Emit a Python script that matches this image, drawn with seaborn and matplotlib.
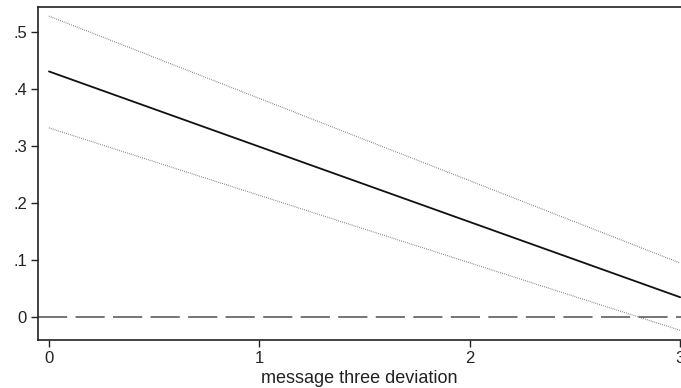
import matplotlib
matplotlib.use("Agg")
import matplotlib.pyplot as plt
import seaborn as sns
import pandas as pd

x_vals = [0, 3]
estimate = [0.430, 0.034]
upper_ci = [0.527, 0.094]
lower_ci = [0.331, -0.024]
y_ticks = [0, 0.1, 0.2, 0.3, 0.4, 0.5]
y_tick_labels = ["0", ".1", ".2", ".3", ".4", ".5"]
x_ticks = [0, 1, 2, 3]
x_tick_labels = ["0", "1", "2", "3"]
x_label = "message three deviation"

sns.set_theme(style="ticks")
plt.rcParams["font.family"] = ["Liberation Sans", "DejaVu Sans"]

fig = plt.figure(figsize=(6.81, 3.88), dpi=100)
ax = fig.add_axes([38 / 681, 1 - 340 / 388, 1 - 38 / 681, (340 - 7) / 388])

df = pd.DataFrame({"x": x_vals, "est": estimate, "hi": upper_ci, "lo": lower_ci})

ax.axhline(0, color="#757575", lw=1.4, dashes=(15, 4.3), zorder=1)
sns.lineplot(data=df, x="x", y="hi", ax=ax, color="#555555", lw=0.8,
             linestyle=(0, (0.6, 1.2)))
sns.lineplot(data=df, x="x", y="lo", ax=ax, color="#555555", lw=0.8,
             linestyle=(0, (0.6, 1.2)))
sns.lineplot(data=df, x="x", y="est", ax=ax, color="#111111", lw=1.3)

ax.set_xlim(-0.052, 3.004)
ax.set_ylim(-0.041, 0.543)
ax.set_xticks(x_ticks)
ax.set_xticklabels(x_tick_labels)
ax.set_yticks(y_ticks)
ax.set_yticklabels(y_tick_labels)
ax.set_xlabel(x_label, fontsize=13, labelpad=3, color="#222222")
ax.set_ylabel("")
ax.tick_params(axis="both", labelsize=12, length=5, width=1, color="#222222",
               labelcolor="#222222", pad=3)
for s in ["left", "bottom", "top"]:
    ax.spines[s].set_color("#222222")
    ax.spines[s].set_linewidth(1.2)
ax.spines["right"].set_visible(False)
ax.set_facecolor("white")
fig.patch.set_facecolor("white")

fig.savefig("out.png", dpi=100)
